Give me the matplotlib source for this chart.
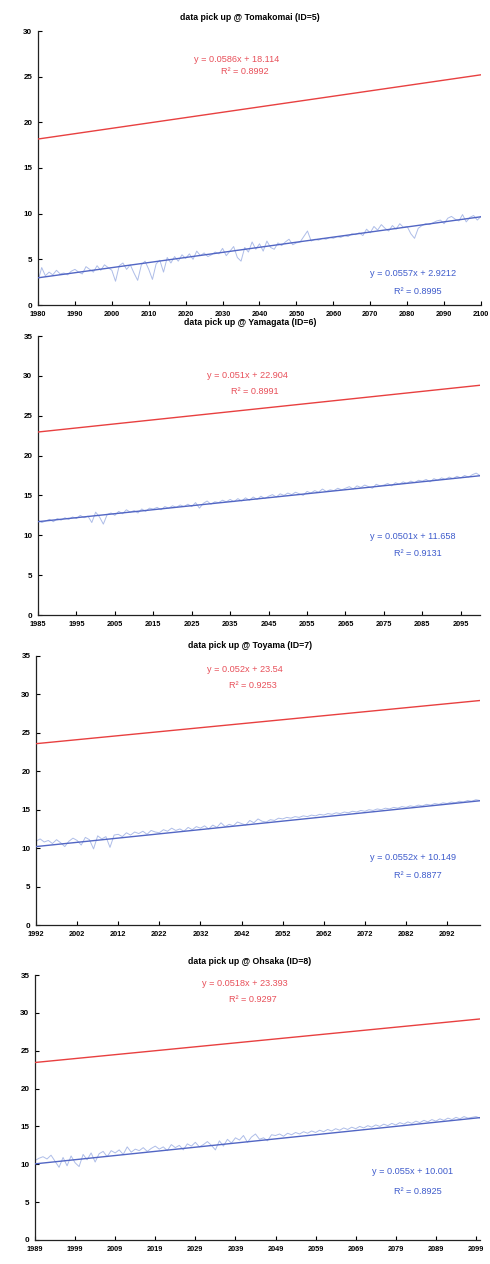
import matplotlib
matplotlib.use("Agg")
import matplotlib.pyplot as plt
import numpy as np

plt.rcParams['font.family'] = ['Liberation Sans', 'DejaVu Sans']

# ---------------- data ----------------
titles = ["data pick up @ Tomakomai (ID=5)", "data pick up @ Yamagata (ID=6)",
          "data pick up @ Toyama (ID=7)", "data pick up @ Ohsaka (ID=8)"]

start_years = [1980, 1985, 1992, 1989]
end_year = 2100

tick_labels_1 = [1980, 1990, 2000, 2010, 2020, 2030, 2040, 2050, 2060, 2070, 2080, 2090, 2100]
tick_labels_2 = [1985, 1995, 2005, 2015, 2025, 2035, 2045, 2055, 2065, 2075, 2085, 2095]
tick_labels_3 = [1992, 2002, 2012, 2022, 2032, 2042, 2052, 2062, 2072, 2082, 2092]
tick_labels_4 = [1989, 1999, 2009, 2019, 2029, 2039, 2049, 2059, 2069, 2079, 2089, 2099]

# red trend lines (slope, intercept, R^2) as shown in the chart
red_slope = [0.0586, 0.051, 0.052, 0.0518]
red_intercept = [18.114, 22.904, 23.54, 23.393]
red_r2 = [0.8992, 0.8991, 0.9253, 0.9297]

# blue trend lines
blue_slope = [0.0557, 0.0501, 0.0552, 0.055]
blue_intercept = [2.9212, 11.658, 10.149, 10.001]
blue_r2 = [0.8995, 0.9131, 0.8877, 0.8925]

# blue series (annual values)
blue_1 = [2.6, 4.1, 3.2, 3.6, 3.3, 3.8, 3.4, 3.5, 3.3, 3.7,
          3.9, 3.6, 3.4, 4.2, 3.9, 3.6, 4.3, 3.8, 4.4, 4.1,
          3.8, 2.6, 4.3, 4.6, 3.9, 4.4, 3.5, 2.7, 4.4, 4.8,
          3.9, 2.8, 4.5, 4.9, 3.6, 5.2, 4.6, 5.3, 4.8, 5.5,
          5.1, 5.6, 5.0, 5.9, 5.4, 5.7, 5.3, 5.5, 5.8, 5.6,
          6.2, 5.4, 5.9, 6.4, 5.2, 4.8, 6.3, 5.8, 6.9, 6.1,
          6.7, 5.9, 7.0, 6.3, 6.1, 6.8, 6.5, 6.9, 7.2, 6.6,
          6.8, 6.9, 7.5, 8.1, 7.0, 7.2, 7.1, 7.3, 7.2, 7.4,
          7.3, 7.5, 7.4, 7.6, 7.5, 7.8, 7.7, 7.9, 7.6, 8.3,
          7.9, 8.6, 8.2, 8.8, 8.4, 8.1, 8.7, 8.3, 8.9, 8.5,
          8.6, 7.8, 7.3, 8.4, 8.7, 8.9, 8.8, 9.0, 9.2, 9.3,
          8.9, 9.5, 9.7, 9.4, 9.2, 9.9, 9.1, 9.6, 9.8, 9.3,
          9.7]
blue_2 = [11.9, 11.6, 11.8, 12.0, 11.7, 12.1, 11.9, 12.2, 12.0, 12.3,
          12.1, 12.5, 12.2, 12.4, 11.6, 12.9, 12.3, 11.4, 12.6, 12.8,
          12.5, 13.0, 12.7, 13.2, 12.9, 13.1, 12.8, 13.3, 13.0, 13.4,
          13.3, 13.5, 13.2, 13.6, 13.4, 13.7, 13.5, 13.8, 13.6, 13.9,
          13.6, 14.1, 13.4, 14.0, 14.3, 13.9, 14.2, 14.1, 14.4, 14.2,
          14.5, 14.2, 14.6, 14.3, 14.7, 14.4, 14.8, 14.5, 14.9, 14.6,
          14.9, 15.1, 14.8, 15.2, 15.0, 15.3, 15.1, 15.4, 15.2, 15.0,
          15.5, 15.3, 15.6, 15.4, 15.8, 15.5, 15.7, 15.6, 15.9, 15.7,
          15.9, 16.1, 15.8, 16.2, 16.0, 16.3, 16.1, 15.9, 16.4, 16.2,
          16.3, 16.5, 16.2, 16.6, 16.4, 16.7, 16.5, 16.8, 16.6, 16.9,
          16.8, 17.0, 16.7, 17.1, 16.9, 17.2, 17.0, 17.3, 17.1, 17.4,
          17.2, 17.5, 17.3, 17.6, 17.8, 17.5]
blue_3 = [10.9, 11.2, 10.8, 11.0, 10.6, 11.1, 10.7, 10.2, 10.9, 11.3,
          11.0, 10.4, 11.4, 11.1, 9.9, 11.6, 11.2, 11.5, 10.1, 11.7,
          11.8, 11.5, 12.0, 11.7, 12.1, 11.9, 12.2, 11.8, 12.3, 12.1,
          12.0, 12.4, 12.2, 12.6, 12.3, 12.5, 12.2, 12.7, 12.4, 12.8,
          12.6, 12.9, 12.5, 13.0, 12.7, 13.3, 12.8, 13.1, 12.9, 13.4,
          13.2, 13.0, 13.6, 13.3, 13.8, 13.5, 13.4, 13.7, 13.6, 13.9,
          13.8, 14.0, 13.9, 14.1, 14.0, 14.2, 14.1, 14.3, 14.2, 14.4,
          14.3, 14.5, 14.4, 14.6, 14.5, 14.7, 14.6, 14.8, 14.7, 14.9,
          14.8, 15.0, 14.9, 15.1, 15.0, 15.2, 15.1, 15.3, 15.2, 15.4,
          15.3, 15.5, 15.4, 15.6, 15.5, 15.7, 15.6, 15.8, 15.7, 15.9,
          15.8, 16.0, 15.9, 16.1, 16.0, 16.2, 16.1, 16.3, 16.2]
blue_4 = [10.5, 10.8, 11.0, 10.7, 11.2, 10.4, 9.6, 10.9, 9.8, 11.1,
          10.2, 9.7, 11.3, 10.6, 11.5, 10.3, 11.4, 11.7, 11.0, 11.8,
          11.5, 11.9, 11.3, 12.3, 11.6, 12.0, 11.8, 12.2, 11.7, 12.1,
          12.4, 12.0, 12.3, 11.8, 12.6, 12.2, 12.5, 11.9, 12.7, 12.4,
          12.9, 12.3, 12.6, 13.0, 12.5, 11.9, 13.1, 12.4, 13.3, 12.8,
          13.5, 13.2, 13.8, 12.9, 13.6, 14.0, 13.3, 13.5, 13.1, 13.9,
          13.8, 14.0, 13.7, 14.1, 13.9, 14.2, 14.0, 14.3, 14.1, 14.4,
          14.2, 14.5, 14.3, 14.6, 14.4, 14.7, 14.5, 14.8, 14.6, 14.9,
          14.7, 15.0, 14.8, 15.1, 14.9, 15.2, 15.0, 15.3, 15.1, 15.4,
          15.2, 15.5, 15.3, 15.6, 15.4, 15.7, 15.5, 15.8, 15.6, 15.9,
          15.7, 16.0, 15.8, 16.1, 15.9, 16.2, 16.0, 16.3, 16.1, 16.2,
          16.3, 16.1]

blue_series = [blue_1, blue_2, blue_3, blue_4]
tick_sets = [tick_labels_1, tick_labels_2, tick_labels_3, tick_labels_4]
y_max = [30, 35, 35, 35]

# ---------------- layout (pixels) ----------------
W, H = 490, 1264
fig = plt.figure(figsize=(W / 100, H / 100), dpi=100)

# left, top, right, bottom of plot area
rects = [(38, 31, 481, 305), (38, 336, 480, 615), (36, 656, 480, 925), (35, 975, 480, 1240)]
title_y = [18, 323, 645, 962]
red_eq_pos = [(237, 60, 72), (247, 376, 392), (245, 669, 686), (245, 984, 1000)]
blue_eq_pos = [(413, 274, 292), (413, 537, 553), (413, 857, 875), (413, 1172, 1191)]

red_text = '#e8505a'
blue_text = '#3f5ccc'
red_line = '#e84040'
blue_trend = '#5266c4'
blue_data = '#aebde8'

def fx(px):
    return px / W

def fy(py):
    return 1 - py / H

for k in range(4):
    l, t, r, b = rects[k]
    ax = fig.add_axes([fx(l), fy(b), (r - l) / W, (b - t) / H])
    years = np.arange(start_years[k], end_year + 1)
    idx = np.arange(1, len(years) + 1)
    vals = blue_series[k]

    ax.plot(years, vals, color=blue_data, lw=0.7, zorder=2)
    ax.plot(years, blue_slope[k] * idx + blue_intercept[k], color=blue_trend, lw=1.0, zorder=3)
    ax.plot(years, red_slope[k] * idx + red_intercept[k], color=red_line, lw=1.0, zorder=3)

    ax.set_xlim(years[0], years[-1])
    ax.set_ylim(0, y_max[k])
    ax.set_yticks(np.arange(0, y_max[k] + 1, 5))
    ax.set_xticks(tick_sets[k])
    ax.set_xticklabels([str(v) for v in tick_sets[k]])
    for s in ['top', 'right']:
        ax.spines[s].set_visible(False)
    for s in ['left', 'bottom']:
        ax.spines[s].set_linewidth(0.9)
        ax.spines[s].set_color('#222222')
    ax.tick_params(axis='both', direction='in', length=3, width=0.8, labelsize=5.8, pad=4)
    for lab in ax.get_xticklabels() + ax.get_yticklabels():
        lab.set_fontweight('bold')
    ax.tick_params(axis='x', pad=4, labelsize=5.3)

    fig.text(fx(250), fy(title_y[k]), titles[k], ha='center', va='center',
             fontsize=6.3, fontweight='bold')

    x0, y1, y2 = red_eq_pos[k]
    fig.text(fx(x0), fy(y1), f"y = {red_slope[k]}x + {red_intercept[k]}", ha='center', va='center',
             fontsize=6.6, color=red_text)
    fig.text(fx(x0 + 8), fy(y2), f"R² = {red_r2[k]}", ha='center', va='center',
             fontsize=6.6, color=red_text)
    x0, y1, y2 = blue_eq_pos[k]
    fig.text(fx(x0), fy(y1), f"y = {blue_slope[k]}x + {blue_intercept[k]}", ha='center', va='center',
             fontsize=6.6, color=blue_text)
    fig.text(fx(x0 + 5), fy(y2), f"R² = {blue_r2[k]}", ha='center', va='center',
             fontsize=6.6, color=blue_text)

fig.savefig("out.png", dpi=100, facecolor='white')
